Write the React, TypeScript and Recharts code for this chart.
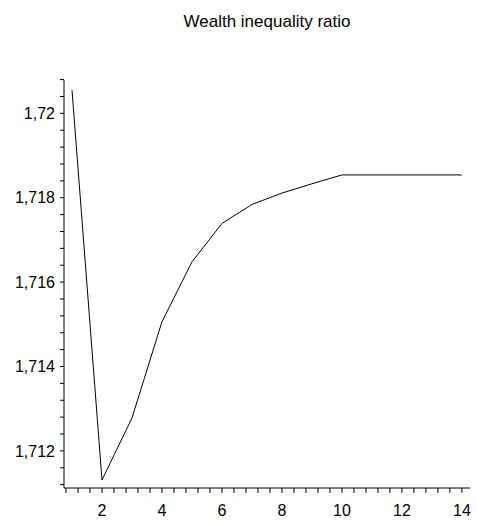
import React from "react"
import { LineChart, Line, XAxis, YAxis } from "recharts"

// model periods and the ratio
const periods = [1, 2, 3, 4, 5, 6, 7, 8, 9, 10, 11, 12, 13, 14]
const ratio = [
  1.72055, 1.71131, 1.71278, 1.71506, 1.71648, 1.71739, 1.71784, 1.71811, 1.71833, 1.71854, 1.71854,
  1.71854, 1.71854, 1.71854,
]

const xTicks = [
  0.8, 1.2, 1.6, 2, 2.4, 2.8, 3.2, 3.6, 4, 4.4, 4.8, 5.2, 5.6, 6, 6.4, 6.8, 7.2, 7.6, 8, 8.4, 8.8, 9.2, 9.6,
  10, 10.4, 10.8, 11.2, 11.6, 12, 12.4, 12.8, 13.2, 13.6, 14,
]
const xLabels = [2, 4, 6, 8, 10, 12, 14]

const yTicks = [
  1.7112, 1.7116, 1.712, 1.7124, 1.7128, 1.7132, 1.7136, 1.714, 1.7144, 1.7148, 1.7152, 1.7156, 1.716,
  1.7164, 1.7168, 1.7172, 1.7176, 1.718, 1.7184, 1.7188, 1.7192, 1.7196, 1.72, 1.7204, 1.7208,
]
const yLabels = [1.712, 1.714, 1.716, 1.718, 1.72]

const data = periods.map((p, i) => ({ period: p, ratio: ratio[i] }))

const near = (list: number[], v: number) => list.some((l) => Math.abs(l - v) < 1e-9)

const fmtX = (v: number) => (near(xLabels, v) ? String(Math.round(v)) : "")
const fmtY = (v: number) => (near(yLabels, v) ? String(Number(v.toFixed(3))).replace(".", ",") : "")

const font = "Arial, 'Liberation Sans', sans-serif"

export default function App() {
  return (
    <div style={{ position: "absolute", left: 0, top: 0, width: 477, height: 523, background: "#fff" }}>
      <div
        style={{
          position: "absolute",
          left: 64,
          width: 406,
          top: 12,
          textAlign: "center",
          fontFamily: font,
          fontSize: 17,
          color: "#000",
        }}
      >
        Wealth inequality ratio
      </div>
      <LineChart width={477} height={523} data={data} margin={{ top: 80, right: 7, bottom: 0, left: 4 }}>
        <XAxis
          dataKey="period"
          type="number"
          domain={[0.733, 14.27]}
          ticks={xTicks}
          interval={0}
          tickFormatter={fmtX}
          allowDataOverflow
          height={35}
          tickSize={5}
          tickMargin={12}
          stroke="#000"
          tick={{ fill: "#000", fontSize: 16, fontFamily: font }}
        />
        <YAxis
          type="number"
          domain={[1.71112, 1.72079]}
          ticks={yTicks}
          interval={0}
          tickFormatter={fmtY}
          allowDataOverflow
          width={60}
          tickSize={4}
          tickMargin={5}
          stroke="#000"
          tick={{ fill: "#000", fontSize: 16, fontFamily: font }}
        />
        <Line
          dataKey="ratio"
          type="linear"
          stroke="#000"
          strokeWidth={1}
          dot={false}
          isAnimationActive={false}
        />
      </LineChart>
    </div>
  )
}
